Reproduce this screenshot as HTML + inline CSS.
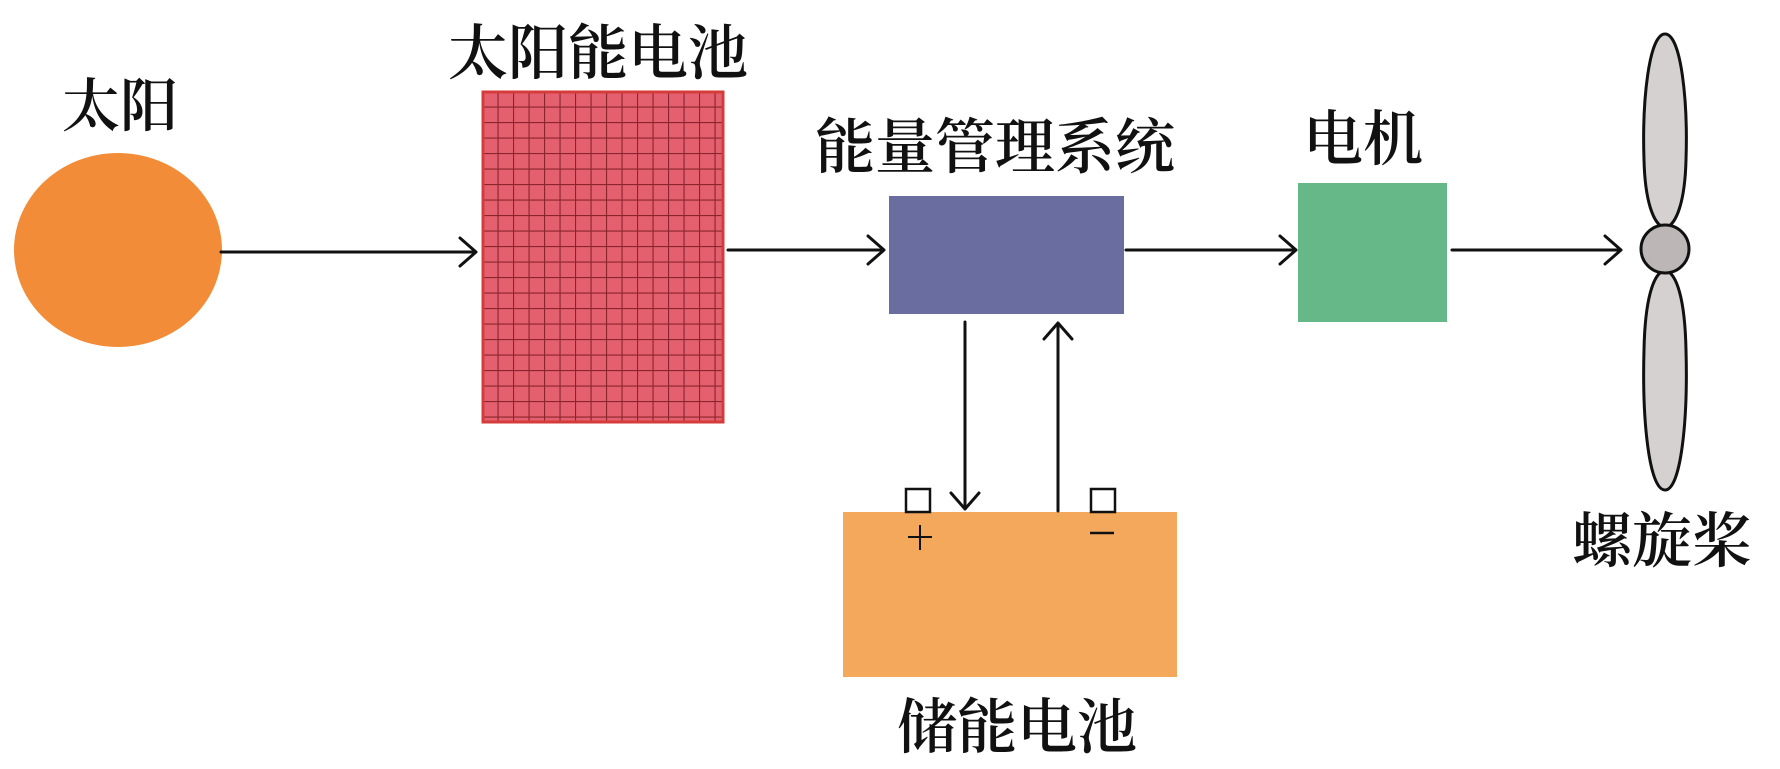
<!DOCTYPE html>
<html><head><meta charset="utf-8"><style>
html,body{margin:0;padding:0;background:#fff;}
svg{display:block;}
text{font-family:"Liberation Serif","Noto Serif CJK SC",serif;fill:#111;font-weight:600;}
</style></head><body>
<svg width="1780" height="769" viewBox="0 0 1780 769" xmlns="http://www.w3.org/2000/svg">
<defs>
<pattern id="grid" x="482" y="91" width="15.5" height="15.5" patternUnits="userSpaceOnUse">
<rect width="15.5" height="15.5" fill="#e4606f"/>
<path d="M0 0H15.5M0 0V15.5" stroke="#8a252d" stroke-width="2.2"/>
</pattern>
</defs>
<ellipse cx="118" cy="250" rx="104" ry="97" fill="#f28c38"/>
<text x="62" y="126" font-size="58">太阳</text>
<text x="448" y="74" font-size="60">太阳能电池</text>
<rect x="483" y="92" width="240" height="330" fill="url(#grid)" stroke="#d63b3b" stroke-width="3"/>
<text x="815" y="168" font-size="60">能量管理系统</text>
<rect x="889" y="196" width="235" height="118" fill="#6a6da0"/>
<text x="1303" y="160" font-size="60">电机</text>
<rect x="1298" y="183" width="149" height="139" fill="#66b888"/>
<rect x="843" y="512" width="334" height="165" fill="#f4a85c"/>
<rect x="906" y="489" width="24" height="23" fill="#fff" stroke="#111" stroke-width="2.5"/>
<rect x="1091" y="489" width="24" height="23" fill="#fff" stroke="#111" stroke-width="2.5"/>
<path d="M920 525V550M908 537H932" stroke="#111" stroke-width="2"/>
<path d="M1090 533H1114" stroke="#111" stroke-width="2.5"/>
<text x="897" y="748" font-size="60">储能电池</text>
<path d="M1665 34C1681 34 1688 100 1686 160C1685 200 1677 225 1665 228C1653 225 1645 200 1644 160C1642 100 1649 34 1665 34Z" fill="#d6d1d1" stroke="#111" stroke-width="3"/>
<path d="M1665 270C1677 273 1685 300 1686 350C1688 420 1681 490 1665 490C1649 490 1642 420 1644 350C1645 300 1653 273 1665 270Z" fill="#d6d1d1" stroke="#111" stroke-width="3"/>
<circle cx="1665" cy="249" r="24" fill="#bcb6b6" stroke="#111" stroke-width="3"/>
<text x="1572" y="562" font-size="60">螺旋桨</text>
<g stroke="#111" stroke-width="3" fill="none" stroke-linecap="round" stroke-linejoin="round">
<path d="M221 252H476M460 238L476 252L460 266"/>
<path d="M728 250H884M868 236L884 250L868 264"/>
<path d="M1126 250H1296M1280 236L1296 250L1280 264"/>
<path d="M1452 250H1621M1605 236L1621 250L1605 264"/>
<path d="M965 322V509M951 493L965 509L979 493"/>
<path d="M1058 511V323M1044 339L1058 323L1072 339"/>
</g>
</svg>
</body></html>
